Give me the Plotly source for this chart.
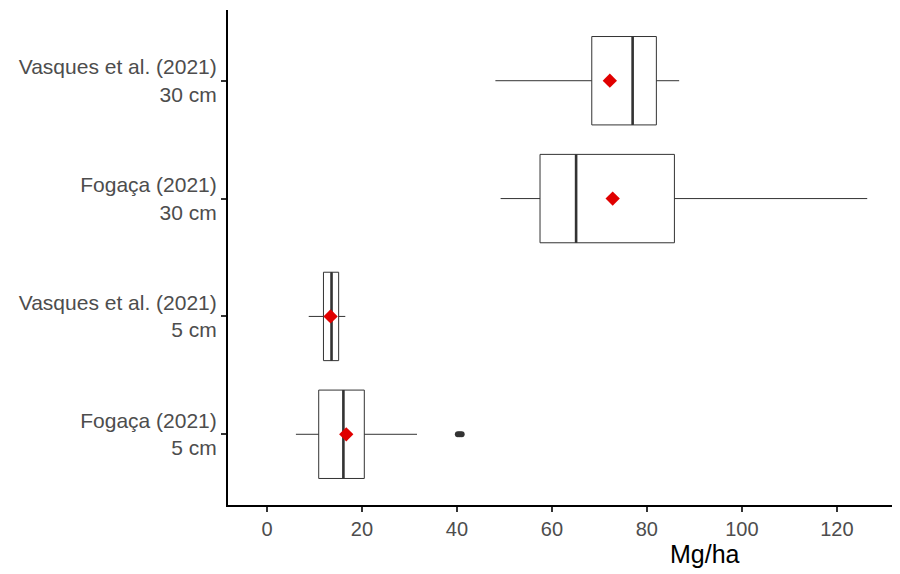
import plotly.graph_objects as go

categories = ["Fogaça (2021)<br>5 cm", "Vasques et al. (2021)<br>5 cm",
              "Fogaça (2021)<br>30 cm", "Vasques et al. (2021)<br>30 cm"]
positions = [1, 2, 3, 4]
q1 = [10.9, 11.9, 57.5, 68.4]
median = [16.1, 13.6, 65.1, 77.0]
q3 = [20.5, 15.1, 85.8, 82.0]
lower = [6.1, 8.8, 49.2, 48.1]
upper = [31.6, 16.5, 126.4, 86.8]
means = [16.7, 13.4, 72.8, 72.2]
outlier_x = [40.2, 40.6, 41.0]
outlier_pos = [1, 1, 1]
x_ticks = [0, 20, 40, 60, 80, 100, 120]

BOX_W = 0.75
FONT = "Liberation Sans, Arial, sans-serif"

fig = go.Figure()
fig.add_trace(go.Box(
    y=positions, q1=q1, median=median, q3=q3,
    lowerfence=lower, upperfence=upper,
    orientation="h", width=BOX_W, whiskerwidth=0,
    fillcolor="white", line=dict(color="#333333", width=1),
    boxpoints=False, hoverinfo="skip", showlegend=False,
))

# thicker median lines
mx, my = [], []
for m, p in zip(median, positions):
    mx += [m, m, None]
    my += [p - BOX_W / 2, p + BOX_W / 2, None]
fig.add_trace(go.Scatter(x=mx, y=my, mode="lines",
                         line=dict(color="#333333", width=2.6),
                         showlegend=False, hoverinfo="skip"))

fig.add_trace(go.Scatter(x=outlier_x, y=outlier_pos, mode="markers",
                         marker=dict(color="#333333", size=6),
                         showlegend=False))
fig.add_trace(go.Scatter(x=means, y=positions, mode="markers",
                         marker=dict(color="#e00000", size=11, symbol="diamond"),
                         showlegend=False))

fig.update_layout(
    width=892, height=566,
    margin=dict(l=220, r=0, t=2, b=69),
    paper_bgcolor="white", plot_bgcolor="white",
    font=dict(family=FONT, size=21, color="#4d4d4d"),
    showlegend=False,
    xaxis=dict(range=[-8.2, 133.3], tickvals=x_ticks, showgrid=False, zeroline=False,
               showline=True, linecolor="black", linewidth=2,
               ticks="outside", ticklen=5, tickcolor="#333333", tickwidth=1.5,
               tickfont=dict(size=20, color="#4d4d4d")),
    yaxis=dict(range=[0.4, 4.6], tickvals=positions, ticktext=categories,
               showgrid=False, zeroline=False,
               showline=True, linecolor="black", linewidth=2,
               ticks="outside", ticklen=5, tickcolor="#333333", tickwidth=1.5,
               tickfont=dict(size=21, color="#4d4d4d")),
    annotations=[dict(text="Mg/ha", xref="paper", yref="paper", x=0.71, y=-0.098,
                      xanchor="center", yanchor="middle", showarrow=False,
                      font=dict(size=25, color="black", family=FONT))],
)

fig.write_html("out.html")
